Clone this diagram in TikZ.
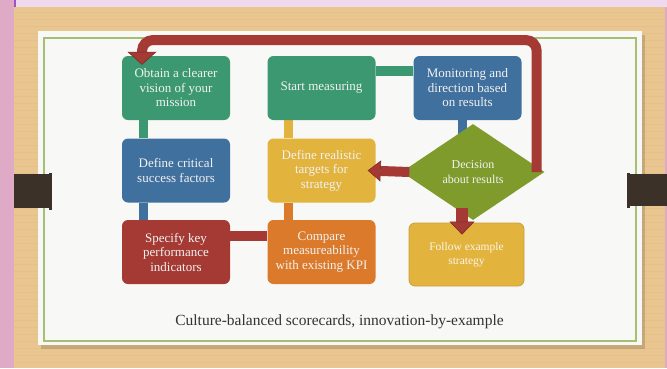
\documentclass[tikz,border=0pt]{standalone}
\usepackage{fontspec}
\setmainfont{Liberation Serif}
\usepackage{xcolor}
\usepackage{tikz}
\definecolor{kpgreen}{HTML}{3C9871}
\definecolor{kpblue}{HTML}{40709E}
\definecolor{kpred}{HTML}{A43A33}
\definecolor{kpdarkred}{HTML}{7E2A25}
\definecolor{kporange}{HTML}{DB7A2B}
\definecolor{kpyellow}{HTML}{E2B33D}
\definecolor{kpyelline}{HTML}{C9A03A}
\definecolor{kpolive}{HTML}{7F9B2C}
\definecolor{wood}{HTML}{E9C68F}
\definecolor{woodline}{HTML}{DDB47A}
\definecolor{card}{HTML}{F8F8F6}
\definecolor{cardline}{HTML}{A6BE72}
\definecolor{tab}{HTML}{3B3129}
\definecolor{pinkstrip}{HTML}{DEAAC6}
\definecolor{lavender}{HTML}{F0D8EE}
\definecolor{purpleline}{HTML}{A052C2}
\usetikzlibrary{shapes.geometric, arrows.meta, positioning, calc}
\pgfdeclarelayer{bg}
\pgfdeclarelayer{links}
\pgfsetlayers{bg,links,main}

\begin{document}
\begin{tikzpicture}[x=1pt, y=-1pt,
  stagebox/.style={rectangle, rounded corners=6pt, fill=#1, text=white!95!black,
    minimum width=108pt, minimum height=64pt, inner sep=2pt, align=center,
    font=\fontsize{13}{14.5}\selectfont},
  link/.style={draw=#1, line width=9.5pt},
  redarrow/.style={draw=kpred, line width=10pt,
    -{Triangle[width=#1, length=13pt, fill=kpred, color=kpdarkred, line width=0.6pt]}}]
\useasboundingbox (0,0) rectangle (667,368);
% slide background
\begin{pgfonlayer}{bg}
\fill[wood] (0,0) rectangle (667,368);
\foreach \y in {12,19,...,368} \draw[woodline, line width=0.4pt, opacity=0.25] (14,\y) -- (665,\y);
\fill[lavender] (14,0) rectangle (667,6.5);
\fill[purpleline] (14,0) rectangle (16,6.5);
\fill[pinkstrip] (0,0) rectangle (14,368);
\fill[pinkstrip] (665,6.5) rectangle (667,368);
\fill[black, opacity=0.15] (41,35) rectangle (645,349);
\fill[card] (38,31) rectangle (642,345);
\draw[cardline, line width=1.3pt] (44,38) rectangle (636,341);
\fill[tab] (14,174) rectangle (51,208);
\fill[tab] (49,172.5) rectangle (52,209.5);
\fill[tab] (629,174) rectangle (667,206);
\fill[tab] (627,172.5) rectangle (630,207.5);
\end{pgfonlayer}

% stages
\node[stagebox=kpgreen] (obtain) at (176,88) {Obtain a clearer\\vision of your\\mission};
\node[stagebox=kpgreen] (start) at (321.5,88) {Start measuring};
\node[stagebox=kpblue] (monitor) at (467.5,88) {Monitoring and\\direction based\\on results};
\node[stagebox=kpblue] (critical) at (176,170.5) {Define critical\\success factors};
\node[stagebox=kpyellow] (targets) at (321.5,170.5) {Define realistic\\targets for\\strategy};
\node[stagebox=kpred] (specify) at (176,252) {Specify key\\performance\\indicators};
\node[stagebox=kporange] (compare) at (321.5,252) {Compare\\measureability\\with existing KPI};
\node[diamond, fill=kpolive, text=white!95!black, minimum width=143pt, minimum height=96pt,
  inner sep=0pt, align=center, font=\fontsize{12}{14.5}\selectfont] (decision) at (473,172) {Decision\\about results};
\node[stagebox=kpyellow, draw=kpyelline, line width=0.8pt, minimum width=115pt, minimum height=63pt,
  text=white!88!kpyellow, font=\fontsize{11.5}{14.5}\selectfont] (follow) at (466.5,254.5) {Follow example\\strategy};

% links
\begin{pgfonlayer}{links}
\draw[link=kpgreen] ([xshift=-32.5pt]obtain.south) -- ([xshift=-32.5pt]critical.north);
\draw[link=kpblue] ([xshift=-32.5pt]critical.south) -- ([xshift=-32.5pt]specify.north);
\draw[link=kpyellow] ([xshift=-33pt]start.south) -- ([xshift=-33pt]targets.north);
\draw[link=kporange] ([xshift=-33pt]targets.south) -- ([xshift=-33pt]compare.north);
\draw[link=kpred] ([yshift=16pt]specify.east) -- ([yshift=16pt]compare.west);
\draw[link=kpgreen] ([yshift=17pt]start.east) -- ([yshift=17pt]monitor.west);
\draw[link=kpblue] ([xshift=-5pt]monitor.south) -- ([xshift=-5pt]monitor.south |- decision.center);
\end{pgfonlayer}

% decisions
\draw[redarrow=21pt] ([xshift=8pt]decision.west) -- ([xshift=-8pt]targets.east);
\draw[redarrow=25pt, line width=12pt] ([xshift=-11pt, yshift=12pt]decision.south) -- ([xshift=-4.5pt, yshift=-12pt]follow.north);
\draw[redarrow=29pt, rounded corners=11pt] ([xshift=-8pt]decision.east) -- ++(0,-132) -| ([xshift=-34pt, yshift=-9pt]obtain.north);

\node[text=black!80, font=\fontsize{15.5}{17}\selectfont] (caption) at (339.5,322) {Culture-balanced scorecards, innovation-by-example};
\end{tikzpicture}
\end{document}
